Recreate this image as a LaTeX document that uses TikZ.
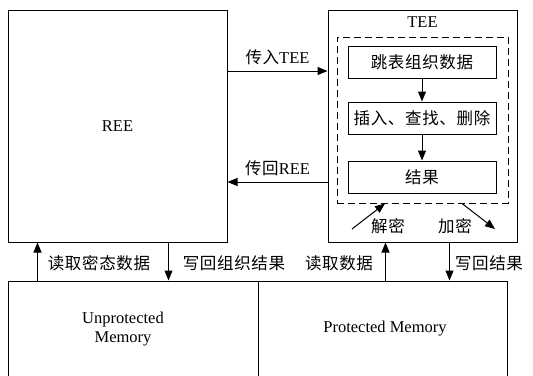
\documentclass[tikz,border=0pt]{standalone}
\usepackage{fontspec}
\setmainfont{Liberation Serif}
\newfontfamily\cjk[LetterSpace=4]{Noto Sans CJK SC}
\usetikzlibrary{arrows.meta,calc}
\tikzset{
  box/.style={draw, line width=1pt, inner sep=0pt},
  arr/.style={line width=1pt, -{Triangle[length=10pt,width=8pt]}},
}
\begin{document}
\begin{tikzpicture}[x=1pt,y=1pt,yscale=-1,xscale=1,font=\fontsize{16.5}{19}\selectfont]
\clip (0,0) rectangle (533,375);

%Process [REE]
\node[box, minimum width=219pt, minimum height=232pt] (ree) at (117.5,126) {REE};
%Process [TEE]
\node[box, minimum width=189pt, minimum height=232pt] (tee) at (422.5,126) {};
%Dashed area
\node[box, dashed, dash pattern=on 7pt off 4pt, minimum width=171pt, minimum height=166pt] (safe) at (422.5,120) {};
%Inner steps
\node[box, minimum width=148pt, minimum height=32pt] (skip) at (422,62) {\cjk 跳表组织数据};
\node[box, minimum width=148pt, minimum height=32pt] (ops) at (422,118) {\cjk 插入、查找、删除};
\node[box, minimum width=148pt, minimum height=32pt] (res) at (422,177) {\cjk 结果};
%Memory
\node[box, minimum width=250pt, minimum height=110pt] (unprot) at (133,336) {};
\node[box, minimum width=249pt, minimum height=110pt] (prot) at (382.5,336) {};

% Text Node
\node (teename) at (422.5,22) {TEE};
% Text Node
\node[align=center] (unprottext) at (123,329) {Unprotected\\Memory};
% Text Node
\node (prottext) at (385,329) {Protected Memory};

%Straight Lines
\draw[arr] ([yshift=-55pt]ree.east) -- node[above=2pt] (tx) {{\cjk 传入}TEE} ([yshift=-55pt]tee.west);
\draw[arr] ([yshift=56pt]tee.west) -- node[above=2pt] (rx) {{\cjk 传回}REE} ([yshift=56pt]ree.east);
\draw[arr] (skip) -- (ops);
\draw[arr] (ops) -- (res);

%Decrypt / encrypt
\coordinate (decin) at (352,229);
\coordinate (encout) at (495,229);
\draw[arr] (decin) -- ([xshift=-37.5pt]safe.south);
\draw[arr] ([xshift=39.5pt]safe.south) -- (encout);
\node (dec) at (388,226) {\cjk 解密};
\node (enc) at (455,226) {\cjk 加密};

%Memory links
\coordinate (rd1) at ([xshift=30pt]ree.south west);
\coordinate (wr1) at ([xshift=161pt]ree.south west);
\coordinate (rd2) at ([xshift=58pt]tee.south west);
\coordinate (wr2) at ([xshift=122pt]tee.south west);
\draw[arr] (rd1 |- unprot.north) -- (rd1);
\draw[arr] (wr1) -- (wr1 |- unprot.north);
\draw[arr] (rd2 |- prot.north) -- (rd2);
\draw[arr] (wr2) -- (wr2 |- prot.north);

% Text Node
\node (l1) at (99,263) {\cjk 读取密态数据};
% Text Node
\node (l2) at (234,263) {\cjk 写回组织结果};
% Text Node
\node (l3) at (339,263) {\cjk 读取数据};
% Text Node
\node (l4) at (489,263) {\cjk 写回结果};

\end{tikzpicture}
\end{document}
